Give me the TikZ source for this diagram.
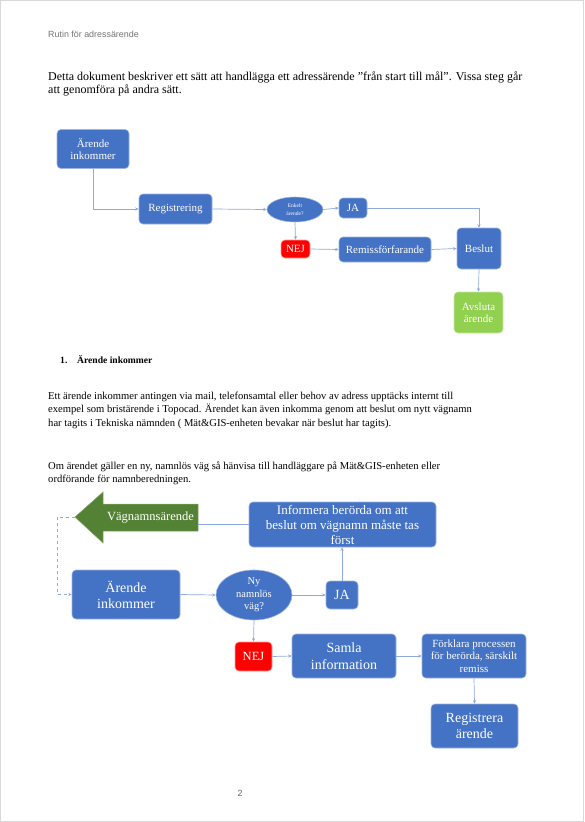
\documentclass[tikz,border=0pt]{standalone}
\usepackage{fontspec}
\setmainfont{Liberation Serif}
\newfontfamily\hdrfont{Liberation Sans}
\usepackage{tikz}
\usetikzlibrary{shapes.geometric,arrows.meta}

\definecolor{boxblue}{HTML}{4472C4}
\definecolor{boxedge}{HTML}{9DB4E0}
\definecolor{linkblue}{HTML}{8FAADC}
\definecolor{nejred}{HTML}{FF0000}
\definecolor{donegreen}{HTML}{92D050}
\definecolor{pilgreen}{HTML}{548235}
\newcommand{\fsz}[2]{\fontsize{#1}{#2}\selectfont}

\tikzset{
	box/.style={draw=boxedge, fill=boxblue, rounded corners=4pt, line width=0.6pt,
		text=white, align=center, inner sep=0pt},
	nejbox/.style={box, fill=nejred, draw=red!40},
	donebox/.style={box, fill=donegreen, draw=donegreen!50},
	fraga/.style={box, ellipse},
	link/.style={draw=linkblue, line width=0.7pt},
	brod/.style={anchor=base west, inner sep=0pt, font=\fsz{12}{13.5}},
	brodsmal/.style={anchor=base west, inner sep=0pt, font=\fsz{10.6}{13.5}},
}

\begin{document}
\begin{tikzpicture}[x=1pt, y=-1pt, >={Stealth[length=3.5pt,width=3.2pt]}]
			\useasboundingbox (0,0) rectangle (584,822);
			\draw[black!15, line width=1pt] (0.5,0.5) rectangle (583.5,821.5);

			\node[anchor=base west, inner sep=0pt, text=black!55, font=\hdrfont\fsz{8.9}{10}] (rubrik) at (48,37) {Rutin för adressärende};
			\node[brod] (intro1) at (48,80) {Detta dokument beskriver ett sätt att handlägga ett adressärende ”från start till mål”. Vissa steg går};
			\node[brod] (intro2) at (48,93.5) {att genomföra på andra sätt.};

			\node[box, minimum width=72pt, minimum height=39pt, font=\fsz{11}{12.5}] (ink1) at (93,149) {Ärende\\inkommer};
			\node[box, minimum width=73pt, minimum height=30pt, font=\fsz{11}{12.5}] (reg1) at (175.5,209) {Registrering};
			\node[fraga, minimum width=56pt, minimum height=25pt, font=\fsz{5.5}{7.5}] (enkel) at (295,209.5) {Enkelt\\ärende?};
			\node[box, minimum width=28pt, minimum height=20pt, font=\fsz{11}{12.5}] (ja1) at (353,208) {JA};
			\node[nejbox, minimum width=29pt, minimum height=18pt, font=\fsz{11}{12.5}] (nej1) at (295.5,249) {NEJ};
			\node[box, minimum width=92pt, minimum height=25pt, font=\fsz{11}{12.5}] (remiss) at (385,249.5) {Remissförfarande};
			\node[box, minimum width=44pt, minimum height=41pt, font=\fsz{11}{12.5}] (beslut) at (479,248.5) {Beslut};
			\node[donebox, minimum width=49pt, minimum height=41pt, font=\fsz{11}{12.5}] (avsluta) at (478.5,312.5) {Avsluta\\ärende};

			\draw[link,->] (ink1.south) |- (reg1.west);
			\draw[link,->] (reg1.east) -- (enkel.west);
			\draw[link,->] (enkel.east) -- (ja1.west);
			\draw[link,->] (ja1.east) -| (beslut.north);
			\draw[link,->] (enkel.south) -- (nej1.north);
			\draw[link,->] (nej1.east) -- (remiss.west);
			\draw[link,->] (remiss.east) -- (beslut.west);
			\draw[link,->] (beslut.south) -- (avsluta.north);

			\node[anchor=base west, inner sep=0pt, font=\bfseries\fsz{9.6}{12}] (nr) at (60,363) {1.};
			\node[anchor=base west, inner sep=0pt, font=\bfseries\fsz{9.6}{12}] (avsnitt) at (77,363) {Ärende inkommer};

			\node[brodsmal] (text1) at (48,399) {Ett ärende inkommer antingen via mail, telefonsamtal eller behov av adress upptäcks internt till};
			\node[brodsmal] (text2) at (48,412.5) {exempel som bristärende i Topocad. Ärendet kan även inkomma genom att beslut om nytt vägnamn};
			\node[brodsmal] (text3) at (48,426) {har tagits i Tekniska nämnden ( Mät\&GIS-enheten bevakar när beslut har tagits).};
			\node[brodsmal] (text4) at (48,469) {Om ärendet gäller en ny, namnlös väg så hänvisa till handläggare på Mät\&GIS-enheten eller};
			\node[brodsmal] (text5) at (48,482.5) {ordförande för namnberedningen.};

			\fill[pilgreen, draw=pilgreen!70!white, line width=0.5pt]
				(75,517) -- (103,492) -- (103,504) -- (198,504)
				-- (198,531) -- (103,531) -- (103,543) -- cycle;
			\coordinate (vtip) at (75,517);
			\coordinate (vturn) at (57,517);
			\node[inner sep=0pt, minimum width=95pt, minimum height=27pt, text=white, font=\fsz{12.5}{14}] (vagn) at (150.5,517.5) {Vägnamnsärende};

			\node[box, minimum width=187pt, minimum height=45pt, font=\fsz{13}{15}] (info) at (342.5,524.5) {Informera berörda om att\\beslut om vägnamn måste tas\\först};
			\node[box, minimum width=108pt, minimum height=49pt, font=\fsz{14}{16}] (ink2) at (126,594.5) {Ärende\\inkommer};
			\node[fraga, minimum width=76pt, minimum height=50pt, font=\fsz{10.5}{12.5}] (nyvag) at (254,595) {Ny\\namnlös\\väg?};
			\node[box, minimum width=32pt, minimum height=28pt, font=\fsz{14}{16}] (ja2) at (342,595) {JA};
			\node[nejbox, minimum width=37pt, minimum height=29pt, font=\fsz{12.5}{14}] (nej2) at (253.5,656.5) {NEJ};
			\node[box, minimum width=104pt, minimum height=44pt, font=\fsz{14}{16.5}] (samla) at (344,656) {Samla\\information};
			\node[box, minimum width=104pt, minimum height=44pt, font=\fsz{11}{12.5}] (forklara) at (474,656) {Förklara processen\\för berörda, särskilt\\remiss};
			\node[box, minimum width=87pt, minimum height=44pt, font=\fsz{14}{16}] (regarende) at (474.5,726) {Registrera\\ärende};

			\draw[link] (info.west) -- (info.west -| vagn.east);
			\draw[link, dashed, ->] (vtip) -- (vturn) |- (ink2.west);
			\draw[link,->] (ink2.east) -- (nyvag.west);
			\draw[link,->] (nyvag.east) -- (ja2.west);
			\draw[link,->] (ja2.north) -- (info.south -| ja2.north);
			\draw[link,->] (nyvag.south) -- (nej2.north);
			\draw[link,->] (nej2.east) -- (samla.west);
			\draw[link,->] (samla.east) -- (forklara.west);
			\draw[link,->] (forklara.south) -- (regarende.north);

			\node[inner sep=0pt, text=black!60, font=\hdrfont\fsz{9}{10}] (sidnr) at (240,793) {2};
		\end{tikzpicture}
\end{document}
